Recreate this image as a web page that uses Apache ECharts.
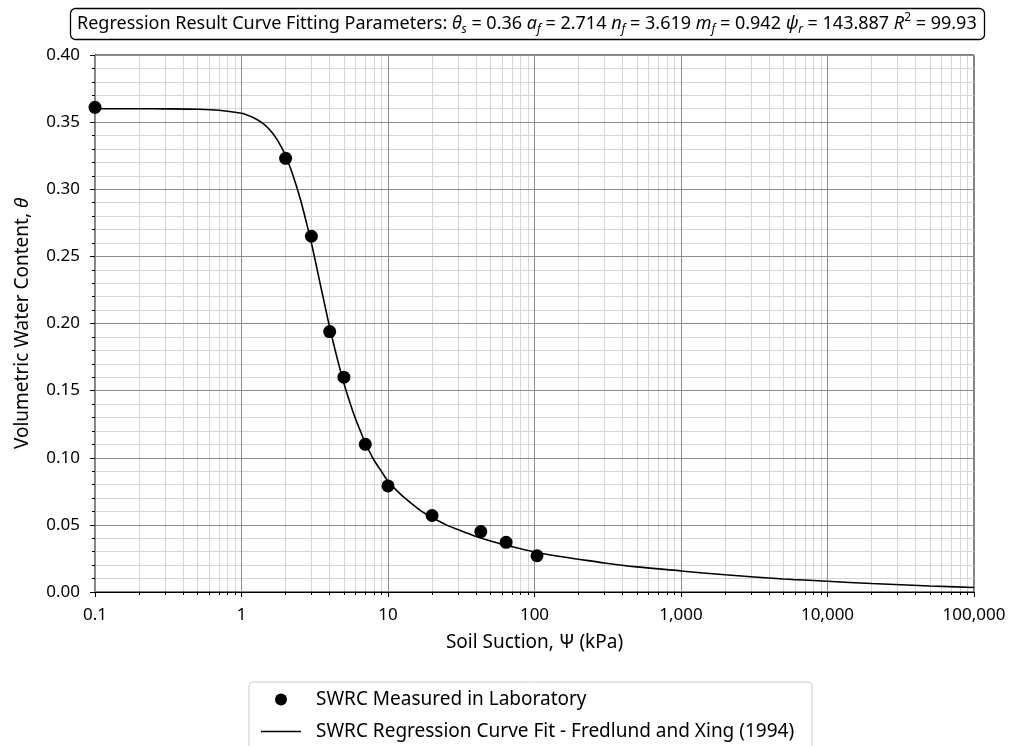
<!DOCTYPE html>
<html>
<head>
<meta charset="utf-8">
<script src="https://cdn.jsdelivr.net/npm/echarts@6/dist/echarts.min.js"></script>
<style>
html,body{margin:0;padding:0;background:#fff;}
#chart{width:1016px;height:746px;}
</style>
</head>
<body>
<div id="chart"></div>
<script>
// ---- data ----
const measuredSuction = [0.1, 2, 3, 4, 5, 7, 10, 20, 43, 64, 104];
const measuredTheta = [0.361, 0.323, 0.265, 0.194, 0.160, 0.110, 0.079, 0.057, 0.045, 0.037, 0.027];

const curveSuction = [0.1, 0.2, 0.3, 0.5, 0.7, 1, 1.1, 1.2, 1.3, 1.4, 1.5, 1.6, 1.7, 1.8, 1.9, 2, 2.2, 2.5, 2.8, 3, 3.2, 3.5, 3.7, 4, 4.5, 5, 5.5, 6, 6.5, 7, 8, 9, 10, 12, 15, 17, 20, 25, 30, 35, 40, 50, 70, 100, 150, 200, 300, 500, 1000, 2000, 5000, 10000, 20000, 50000, 100000];
const curveTheta = [0.3600, 0.3600, 0.3599, 0.3596, 0.3589, 0.3566, 0.3552, 0.3535, 0.3514, 0.3490, 0.3462, 0.3428, 0.3390, 0.3348, 0.3300, 0.3248, 0.3132, 0.2940, 0.2735, 0.2600, 0.2460, 0.2260, 0.2140, 0.1970, 0.1740, 0.1555, 0.1410, 0.1290, 0.1195, 0.1110, 0.0985, 0.0900, 0.0825, 0.0735, 0.0645, 0.0600, 0.0555, 0.0500, 0.0465, 0.0437, 0.0413, 0.0380, 0.0338, 0.0298, 0.0264, 0.0244, 0.0216, 0.0187, 0.0157, 0.0128, 0.0097, 0.0080, 0.0063, 0.0045, 0.0033];

const xMajorTicks = [0.1, 1, 10, 100, 1000, 10000, 100000];
const xTickLabels = ['0.1', '1', '10', '100', '1,000', '10,000', '100,000'];
const fitParams = [
  ['θ', 's', '0.36'],
  ['a', 'f', '2.714'],
  ['n', 'f', '3.619'],
  ['m', 'f', '0.942'],
  ['ψ', 'r', '143.887']
];
const rSquared = '99.93';
const seriesNames = ['SWRC Measured in Laboratory', 'SWRC Regression Curve Fit - Fredlund and Xing (1994)'];

// ---- build ----
const FONT = 'Noto Sans';
const xMinorTicks = [];
xMajorTicks.slice(0, -1).forEach(d => { for (let k = 2; k <= 9; k++) xMinorTicks.push(+(d * k).toPrecision(6)); });

let titleText = '{n|Regression Result Curve Fitting Parameters: }';
fitParams.forEach(p => {
  titleText += '{i|' + p[0] + '}{s|' + p[1] + '}{n| = ' + p[2] + ' }';
});
titleText += '{i|R}{p|2}{n| = ' + rSquared + '}';

const chart = echarts.init(document.getElementById('chart'));
const MAJOR = '#8c8c8c', MINOR = '#d6d6d6';
const TS = 18;
const NS = 19;
chart.setOption({
  backgroundColor: '#fff',
  animation: false,
  title: {
    text: titleText,
    left: 70, top: 8,
    borderColor: '#000', borderWidth: 1.3, borderRadius: 5,
    padding: [4, 8, 4, 7],
    textStyle: {
      fontWeight: 'normal', fontFamily: FONT,
      rich: {
        n: {fontFamily: FONT, fontSize: TS, fontWeight: 'normal', color: '#000', lineHeight: 24, verticalAlign: 'middle'},
        i: {fontFamily: FONT, fontSize: TS, fontWeight: 'normal', fontStyle: 'italic', color: '#000', lineHeight: 24, verticalAlign: 'middle'},
        s: {fontFamily: FONT, fontSize: 12, fontWeight: 'normal', fontStyle: 'italic', color: '#000', verticalAlign: 'bottom', lineHeight: 12},
        p: {fontFamily: FONT, fontSize: 12, fontWeight: 'normal', color: '#000', verticalAlign: 'top', lineHeight: 14}
      }
    }
  },
  legend: {
    orient: 'vertical',
    left: 249, top: 682, height: 120,
    padding: [8, 18, 14, 12],
    itemWidth: 40, itemHeight: 12, itemGap: 13,
    borderColor: '#cccccc', borderWidth: 1, borderRadius: 4,
    textStyle: {fontFamily: FONT, fontSize: NS, color: '#000', padding: [0, 0, 0, 10]},
    data: [
      {name: seriesNames[0], icon: 'circle', itemStyle: {color: '#000', opacity: 1}},
      {name: seriesNames[1], icon: 'path://M0,0 L40,0 L40,1.6 L0,1.6 Z', itemStyle: {color: '#000', opacity: 1}}
    ]
  },
  grid: {left: 95, right: 42, top: 55, bottom: 154, show: true, borderColor: '#000', borderWidth: 1, backgroundColor: 'transparent'},
  xAxis: [{
    type: 'log', logBase: 10, min: 0.1, max: 100000, position: 'bottom', z: 1,
    name: 'Soil Suction, Ψ (kPa)', nameLocation: 'middle', nameGap: 41,
    nameTextStyle: {fontFamily: FONT, fontSize: NS, color: '#000'},
    axisLine: {show: true, lineStyle: {color: '#000', width: 1}},
    axisTick: {show: true, length: 5, lineStyle: {color: '#000'}, customValues: xMajorTicks},
    axisLabel: {fontFamily: FONT, fontSize: 17, color: '#000', margin: 15, customValues: xMajorTicks,
      formatter: v => { const i = xMajorTicks.findIndex(t => Math.abs(Math.log10(t) - Math.log10(v)) < 1e-6); return i >= 0 ? xTickLabels[i] : ''; }},
    splitLine: {show: true, lineStyle: {color: MAJOR, width: 1}}
  }, {
    type: 'log', logBase: 10, min: 0.1, max: 100000, position: 'bottom', z: -1,
    axisLine: {show: false},
    axisTick: {show: true, length: 3, lineStyle: {color: '#000'}, customValues: xMinorTicks},
    axisLabel: {show: false, customValues: xMinorTicks},
    splitLine: {show: true, lineStyle: {color: MINOR, width: 1}}
  }],
  yAxis: {
    type: 'value', min: 0, max: 0.4, interval: 0.05, z: 0,
    name: 'Volumetric Water Content, {it|θ}', nameLocation: 'middle', nameGap: 63,
    nameTextStyle: {fontFamily: FONT, fontSize: NS, color: '#000', rich: {it: {fontFamily: FONT, fontSize: NS, fontStyle: 'italic', color: '#000'}}},
    axisLine: {show: true, lineStyle: {color: '#000', width: 1}},
    axisTick: {show: true, length: 5, lineStyle: {color: '#000'}},
    minorTick: {show: true, splitNumber: 5, length: 3, lineStyle: {color: '#000'}},
    axisLabel: {fontFamily: FONT, fontSize: 17, color: '#000', margin: 15, formatter: v => v.toFixed(2)},
    splitLine: {show: true, lineStyle: {color: MAJOR, width: 1}},
    minorSplitLine: {show: true, lineStyle: {color: MINOR, width: 1}}
  },
  series: [{
    name: seriesNames[0], type: 'scatter', xAxisIndex: 0,
    data: measuredSuction.map((x, i) => [x, measuredTheta[i]]),
    symbol: 'circle', symbolSize: 13, itemStyle: {color: '#000', opacity: 1}, z: 4
  }, {
    name: seriesNames[1], type: 'line', xAxisIndex: 0,
    data: curveSuction.map((x, i) => [x, curveTheta[i]]),
    symbol: 'none', showSymbol: false, smooth: 0.3,
    lineStyle: {color: '#000', width: 1.6}, itemStyle: {color: '#000'}, z: 3
  }]
});
</script>
</body>
</html>
